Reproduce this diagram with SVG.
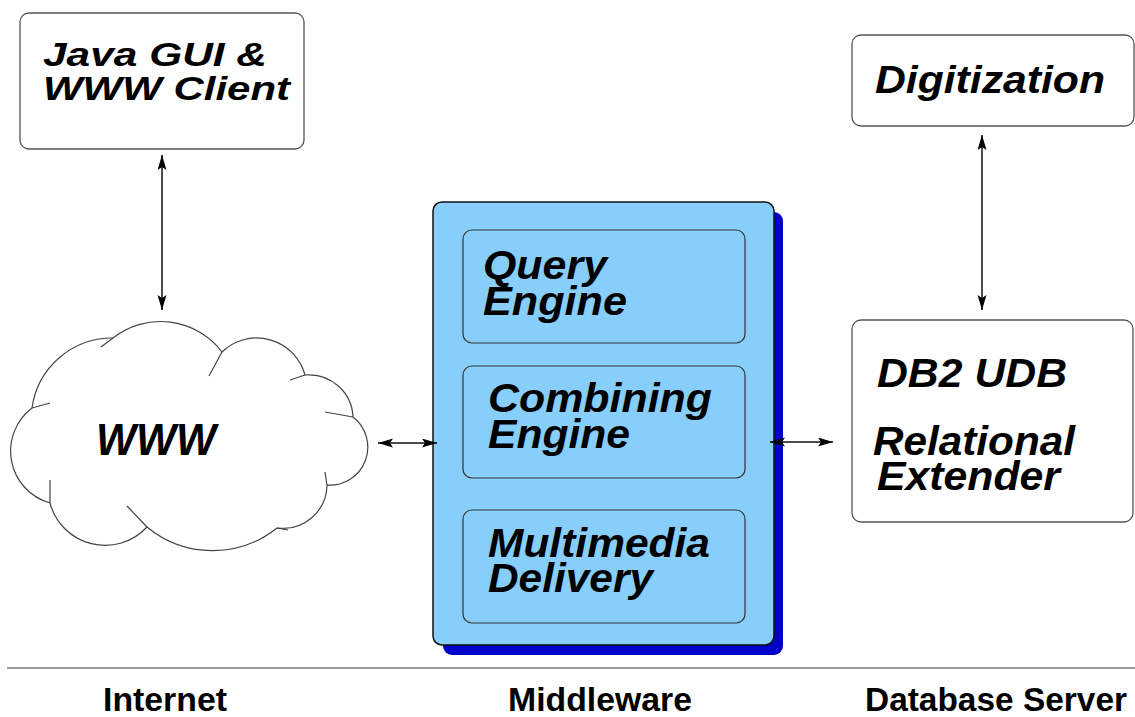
<svg xmlns="http://www.w3.org/2000/svg" width="1135" height="717" viewBox="0 0 1135 717">
<style>
.box{fill:#fff;stroke:#555;stroke-width:1.3}
.mw{fill:#87CEFA;stroke:#111;stroke-width:1.5}
.inner{fill:#87CEFA;stroke:#333;stroke-width:1.2}
.t{font-family:"Liberation Sans",Arial,sans-serif;font-weight:bold;font-style:italic;fill:#000}
.lab{font-family:"Liberation Sans",Arial,sans-serif;font-weight:bold;font-size:33px;fill:#000}
.conn{stroke:#111;stroke-width:1.5;fill:none;marker-start:url(#ah);marker-end:url(#ah)}
.cloud{fill:#fff;stroke:#444;stroke-width:1.2}
.tick{fill:none;stroke:#444;stroke-width:1.2}
</style>
<defs>
<marker id="ah" markerUnits="userSpaceOnUse" markerWidth="16" markerHeight="10" refX="15" refY="4.5" orient="auto-start-reverse">
<path d="M0,0 L15,4.5 L0,9 L3,4.5 z" fill="#000"/>
</marker>
</defs>

<g id="java-client">
<rect class="box" x="20" y="13" width="284" height="136" rx="9"/>
<text class="t" x="43" y="66" font-size="33" textLength="224" lengthAdjust="spacingAndGlyphs">Java GUI &amp;</text>
<text class="t" x="43" y="100" font-size="33" textLength="247" lengthAdjust="spacingAndGlyphs">WWW Client</text>
</g>

<g id="www-cloud">
<path class="cloud" d="M50,503 A54,54 0 0 1 32,408 A81,81 0 0 1 113,338 A77,77 0 0 1 222,352 A50,50 0 0 1 305,375 A44,44 0 0 1 353,417 A38,38 0 0 1 327,485 A44,44 0 0 1 277,528 A103,103 0 0 1 147,527 A57,57 0 0 1 50,503 Z"/>
<path class="tick" d="M113,338 L101,347 M222,352 L209,376 M305,375 L290,380 M353,417 L325,412 M327,485 L325,472 M277,528 L288,530 M147,527 L127,506 M50,503 L50,480 M32,408 L50,403"/>
<text class="t" x="96" y="455" font-size="45" textLength="120" lengthAdjust="spacingAndGlyphs">WWW</text>
</g>

<g id="middleware">
<rect x="443" y="212" width="340" height="443" rx="9" fill="#0000CD"/>
<rect class="mw" x="433" y="202" width="341" height="443" rx="9"/>
</g>

<g id="query-engine">
<rect class="inner" x="463" y="230" width="282" height="113" rx="9"/>
<text class="t" x="483" y="279" font-size="40" textLength="124" lengthAdjust="spacingAndGlyphs">Query</text>
<text class="t" x="483" y="315" font-size="40" textLength="144" lengthAdjust="spacingAndGlyphs">Engine</text>
</g>

<g id="combining-engine">
<rect class="inner" x="463" y="366" width="282" height="112" rx="9"/>
<text class="t" x="488" y="412" font-size="40" textLength="224" lengthAdjust="spacingAndGlyphs">Combining</text>
<text class="t" x="488" y="448" font-size="40" textLength="142" lengthAdjust="spacingAndGlyphs">Engine</text>
</g>

<g id="multimedia-delivery">
<rect class="inner" x="463" y="510" width="282" height="113" rx="9"/>
<text class="t" x="488" y="557" font-size="40" textLength="222" lengthAdjust="spacingAndGlyphs">Multimedia</text>
<text class="t" x="488" y="592" font-size="40" textLength="165" lengthAdjust="spacingAndGlyphs">Delivery</text>
</g>

<g id="digitization">
<rect class="box" x="852" y="35" width="282" height="91" rx="9"/>
<text class="t" x="875" y="93" font-size="39" textLength="230" lengthAdjust="spacingAndGlyphs">Digitization</text>
</g>

<g id="db2">
<rect class="box" x="852" y="320" width="281" height="202" rx="9"/>
<text class="t" x="877" y="387" font-size="40" textLength="190" lengthAdjust="spacingAndGlyphs">DB2 UDB</text>
<text class="t" x="873" y="455" font-size="41" textLength="202" lengthAdjust="spacingAndGlyphs">Relational</text>
<text class="t" x="877" y="490" font-size="41" textLength="183" lengthAdjust="spacingAndGlyphs">Extender</text>
</g>

<g id="connectors">
<line class="conn" x1="162" y1="155" x2="162" y2="310"/>
<line class="conn" x1="982" y1="135" x2="982" y2="310"/>
<line class="conn" x1="378" y1="443" x2="437" y2="443"/>
<line class="conn" x1="770" y1="442" x2="833" y2="442"/>
</g>

<g id="footer">
<line x1="7" y1="668" x2="1135" y2="668" stroke="#999" stroke-width="2"/>
<text class="lab" x="103" y="711" textLength="124" lengthAdjust="spacingAndGlyphs">Internet</text>
<text class="lab" x="508" y="711" textLength="184" lengthAdjust="spacingAndGlyphs">Middleware</text>
<text class="lab" x="865" y="711" textLength="262" lengthAdjust="spacingAndGlyphs">Database Server</text>
</g>
</svg>
